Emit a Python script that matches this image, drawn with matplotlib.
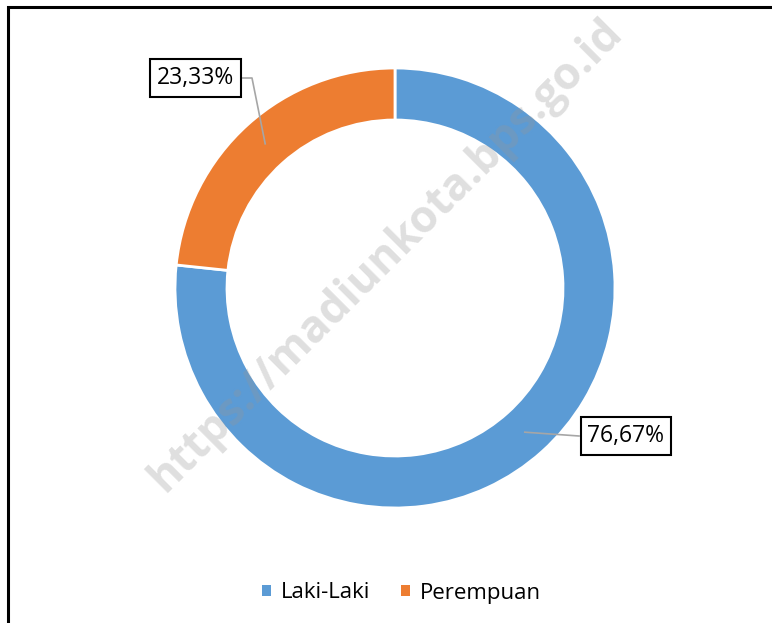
import numpy as np
import matplotlib.pyplot as plt
from matplotlib.patches import Rectangle, Patch

plt.rcParams["font.family"] = ["Open Sans", "DejaVu Sans"]

# data
categories = ["Laki-Laki", "Perempuan"]
shares = [76.67, 23.33]
labels = ["76,67%", "23,33%"]
colors = ["#5B9BD5", "#ED7D31"]

W, H = 772, 623
fig = plt.figure(figsize=(W / 100, H / 100), dpi=100)
ax = fig.add_axes([0, 0, 1, 1])

# chart frame (right/bottom edges cut off in the original)
fig.patches.append(Rectangle((8 / W, -0.1), 1.2, (H - 7) / H + 0.1,
                             transform=fig.transFigure, fill=False,
                             edgecolor="black", linewidth=2.2))

cx, cy, R = 395, H - 288, 220
wedges, _ = ax.pie(shares, colors=colors, startangle=90, counterclock=False,
                   radius=R, center=(cx, cy),
                   wedgeprops=dict(width=52, edgecolor="white", linewidth=2))
for w in wedges:
    w.set_zorder(2)

ax.set_xlim(0, W)
ax.set_ylim(0, H)
ax.set_aspect("auto")
ax.axis("off")

# semi-transparent watermark over the ring
ax.text(386, H - 255, "https://madiunkota.bps.go.id", rotation=45,
        ha="center", va="center", fontsize=32, fontweight="bold",
        color="#969696", alpha=0.3, zorder=2.5)

# data labels with leader lines
label_pos = [(626, H - 436), (195, H - 78)]
for w, txt, (lx, ly) in zip(wedges, labels, label_pos):
    ang = np.deg2rad((w.theta1 + w.theta2) / 2)
    px = cx + (R - 26) * np.cos(ang)
    py = cy + (R - 26) * np.sin(ang)
    if lx > cx:
        ax.plot([px, lx - 47], [py, ly], color="#A6A6A6", lw=1.2, zorder=3)
    else:
        ax.plot([px, lx + 57, lx + 47], [py, ly, ly], color="#A6A6A6", lw=1.2, zorder=3)
    ax.text(lx, ly, txt, ha="center", va="center", fontsize=16.5, color="black",
            zorder=4,
            bbox=dict(boxstyle="square,pad=0.3", facecolor="white",
                      edgecolor="black", linewidth=1.5))

handles = [Patch(facecolor=c, edgecolor="none") for c in colors]
leg = ax.legend(handles, categories, loc="center", bbox_to_anchor=(0.52, (H - 593) / H),
                ncol=2, frameon=False, fontsize=16, handlelength=0.42,
                handleheight=0.42, handletextpad=0.45, columnspacing=1.35)

fig.savefig("out.png", dpi=100)
